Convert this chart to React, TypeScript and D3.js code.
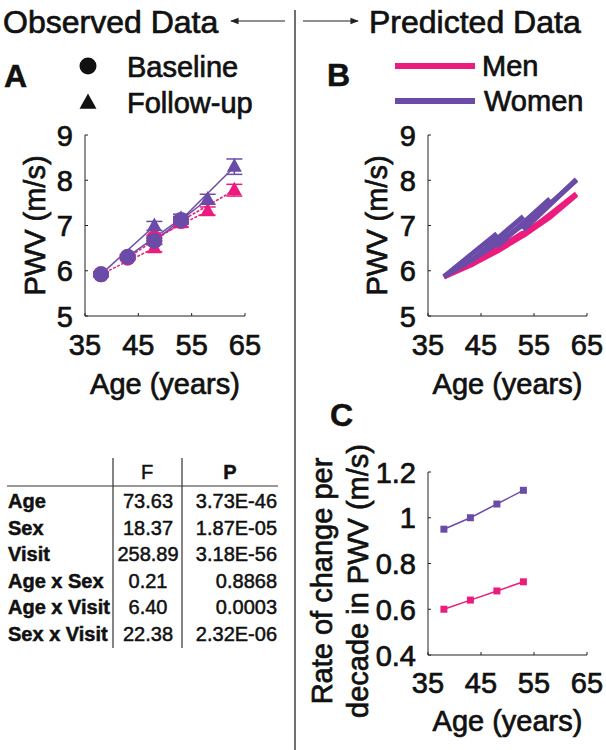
import React from 'react';
import * as d3 from 'd3';

const PINK = '#EC1C7E';
const PURPLE = '#6A4CA8';
const FONT = '"Liberation Sans", Arial, Helvetica, sans-serif';
const FS = 29;

// ---------- Panel A: observed data ----------
const baselineAges = [38, 43, 48, 53];
const followupAges = [48, 53, 58, 63];
const menBaseline = [5.92, 6.29, 6.72, 7.1];
const menBaselineErr = [0.05, 0.05, 0.06, 0.07];
const menFollowup = [6.5, 7.05, 7.32, 7.78];
const menFollowupErr = [0.08, 0.08, 0.09, 0.13];
const womenBaseline = [5.92, 6.31, 6.66, 7.12];
const womenBaselineErr = [0.05, 0.05, 0.07, 0.08];
const womenFollowup = [6.99, 7.15, 7.58, 8.3];
const womenFollowupErr = [0.1, 0.1, 0.11, 0.17];

// ---------- Panel B: predicted data ----------
const trendAges = [38, 43, 48, 53, 58, 63];
const menTrend = [5.86, 6.12, 6.43, 6.78, 7.18, 7.68];
const womenTrend = [5.87, 6.22, 6.6, 7.02, 7.48, 8.0];
const cohortStartAges = [38, 43, 48, 53];
const cohortEndAges = [48, 53, 58, 63];
const menCohortStart = [5.86, 6.12, 6.43, 6.78];
const menCohortEnd = [6.5, 6.84, 7.22, 7.7];
const womenCohortStart = [5.87, 6.2, 6.53, 6.9];
const womenCohortEnd = [6.82, 7.2, 7.59, 8.02];

// ---------- Panel C: rate of change ----------
const rateAges = [38, 43, 48, 53];
const menRate = [0.6, 0.64, 0.68, 0.72];
const womenRate = [0.95, 1.0, 1.06, 1.12];

// ---------- Ticks ----------
const ageTicks = [35, 45, 55, 65];
const pwvTicks = [5, 6, 7, 8, 9];
const rateTicks = [0.4, 0.6, 0.8, 1, 1.2];
const rateTickLabels = ['0.4', '0.6', '0.8', '1', '1.2'];

// ---------- Table ----------
const tableHeader = ['F', 'P'];
const tableRows = ['Age', 'Sex', 'Visit', 'Age x Sex', 'Age x Visit', 'Sex x Visit'];
const tableF = ['73.63', '18.37', '258.89', '0.21', '6.40', '22.38'];
const tableP = ['3.73E-46', '1.87E-05', '3.18E-56', '0.8868', '0.0003', '2.32E-06'];

type Lin = d3.ScaleLinear<number, number>;

function Axes({ x, y, xTicks, yTicks, yLabels, xLabelY }: {
  x: Lin; y: Lin; xTicks: number[]; yTicks: number[]; yLabels: string[]; xLabelY: number;
}) {
  const [x0, x1] = x.range();
  const [y0, y1] = y.range();
  return (
    <g>
      <line x1={x0} x2={x0} y1={y0} y2={y1} stroke="#222" strokeWidth={1} />
      <line x1={x0} x2={x1} y1={y0} y2={y0} stroke="#222" strokeWidth={1} />
      {yTicks.map((t, i) => (
        <g key={'y' + i}>
          <line x1={x0} x2={x0 + 3} y1={y(t)} y2={y(t)} stroke="#222" />
          <text className="big" x={x0 - 12} y={y(t) + 10.5} textAnchor="end" fontSize={FS} fontFamily={FONT} fill="#111">{yLabels[i]}</text>
        </g>
      ))}
      {xTicks.map((t, i) => (
        <g key={'x' + i}>
          <line x1={x(t)} x2={x(t)} y1={y0} y2={y0 - 3} stroke="#222" />
          <text className="big" x={x(t)} y={xLabelY} textAnchor="middle" fontSize={FS} fontFamily={FONT} fill="#111">{t}</text>
        </g>
      ))}
    </g>
  );
}

function tri(cx: number, cy: number, s: number) {
  const h = s * 0.9;
  return `M${cx},${cy - h * 0.62}L${cx + s / 2},${cy + h * 0.38}L${cx - s / 2},${cy + h * 0.38}Z`;
}

export default function App() {
  const xA = d3.scaleLinear().domain([35, 65]).range([85, 245]);
  const yA = d3.scaleLinear().domain([5, 9]).range([316, 135]);
  const xB = d3.scaleLinear().domain([35, 65]).range([428, 587]);
  const yB = d3.scaleLinear().domain([5, 9]).range([316, 135]);
  const xC = d3.scaleLinear().domain([35, 65]).range([428, 587]);
  const yC = d3.scaleLinear().domain([0.4, 1.2]).range([655, 472]);

  const lineB = d3.line<number>();

  const errBar = (x: number, y: number, e: number, color: string, key: string) => (
    <g key={key} stroke={color} strokeWidth={1.5}>
      <line x1={xA(x)} x2={xA(x)} y1={yA(y - e)} y2={yA(y + e)} />
      <line x1={xA(x) - 8} x2={xA(x) + 8} y1={yA(y - e)} y2={yA(y - e)} />
      <line x1={xA(x) - 8} x2={xA(x) + 8} y1={yA(y + e)} y2={yA(y + e)} />
    </g>
  );

  const rowY = (i: number) => 508 + i * 26.6;

  return (
    <svg width={606} height={750} style={{ position: 'absolute', left: 0, top: 0, background: '#fff' }}>
      <style>{`text { stroke: #111; stroke-width: 0.5px; } text.big { stroke-width: 0.7px; }`}</style>
      <defs>
        <marker id="ah" viewBox="0 0 10 10" refX="9" refY="5" markerWidth="7" markerHeight="7" orient="auto-start-reverse">
          <path d="M0,1L10,5L0,9Z" fill="#222" />
        </marker>
      </defs>
      <rect x={0} y={0} width={606} height={750} fill="#fff" />

      {/* Header */}
      <text className="big" x={3} y={33} fontSize={32} fontFamily={FONT} fill="#111">Observed Data</text>
      <text className="big" x={369} y={33} fontSize={32} fontFamily={FONT} fill="#111">Predicted Data</text>
      <line x1={285} x2={231} y1={21} y2={21} stroke="#222" strokeWidth={1.2} markerEnd="url(#ah)" />
      <line x1={303} x2={358} y1={21} y2={21} stroke="#222" strokeWidth={1.2} markerEnd="url(#ah)" />
      <line x1={295} x2={295} y1={10} y2={750} stroke="#222" strokeWidth={1.3} />

      {/* ---------- Panel A ---------- */}
      <text x={4} y={87} fontSize={32} fontWeight="bold" fontFamily={FONT} fill="#111">A</text>
      <circle cx={88} cy={66} r={8.5} fill="#111" />
      <path d={tri(88, 103, 17)} fill="#111" />
      <text className="big" x={127} y={77} fontSize={FS} fontFamily={FONT} fill="#111">Baseline</text>
      <text className="big" x={127} y={113} fontSize={FS} fontFamily={FONT} fill="#111">Follow-up</text>

      <Axes x={xA} y={yA} xTicks={ageTicks} yTicks={pwvTicks} yLabels={pwvTicks.map(String)} xLabelY={355} />
      <text className="big" transform={`translate(45,${(135 + 316) / 2}) rotate(-90)`} textAnchor="middle" fontSize={FS} fontFamily={FONT} fill="#111">PWV (m/s)</text>
      <text className="big" x={(85 + 245) / 2} y={394} textAnchor="middle" fontSize={FS} fontFamily={FONT} fill="#111">Age (years)</text>

      {/* connecting lines */}
      {baselineAges.map((a, i) => (
        <line key={'ml' + i} x1={xA(a)} y1={yA(menBaseline[i])} x2={xA(followupAges[i])} y2={yA(menFollowup[i])}
          stroke={PINK} strokeWidth={1.5} strokeDasharray="3,1.5" />
      ))}
      {baselineAges.map((a, i) => (
        <line key={'wl' + i} x1={xA(a)} y1={yA(womenBaseline[i])} x2={xA(followupAges[i])} y2={yA(womenFollowup[i])}
          stroke={PURPLE} strokeWidth={1.5} />
      ))}
      {/* men markers */}
      {followupAges.map((a, i) => errBar(a, menFollowup[i], menFollowupErr[i], PINK, 'mfe' + i))}
      {baselineAges.map((a, i) => errBar(a, menBaseline[i], menBaselineErr[i], PINK, 'mbe' + i))}
      {followupAges.map((a, i) => <path key={'mft' + i} d={tri(xA(a), yA(menFollowup[i]), 15)} fill={PINK} />)}
      {baselineAges.map((a, i) => <circle key={'mbc' + i} cx={xA(a)} cy={yA(menBaseline[i])} r={8} fill={PINK} />)}
      {/* women markers */}
      {followupAges.map((a, i) => errBar(a, womenFollowup[i], womenFollowupErr[i], PURPLE, 'wfe' + i))}
      {baselineAges.map((a, i) => errBar(a, womenBaseline[i], womenBaselineErr[i], PURPLE, 'wbe' + i))}
      {followupAges.map((a, i) => <path key={'wft' + i} d={tri(xA(a), yA(womenFollowup[i]), 15)} fill={PURPLE} />)}
      {baselineAges.map((a, i) => <circle key={'wbc' + i} cx={xA(a)} cy={yA(womenBaseline[i])} r={8} fill={PURPLE} />)}

      {/* ---------- Panel B ---------- */}
      <text x={327} y={86} fontSize={32} fontWeight="bold" fontFamily={FONT} fill="#111">B</text>
      <line x1={395} x2={475} y1={66} y2={66} stroke={PINK} strokeWidth={6} />
      <line x1={395} x2={475} y1={101} y2={101} stroke={PURPLE} strokeWidth={6} />
      <text className="big" x={482} y={76} fontSize={FS} fontFamily={FONT} fill="#111">Men</text>
      <text className="big" x={484} y={111} fontSize={FS} fontFamily={FONT} fill="#111">Women</text>

      <Axes x={xB} y={yB} xTicks={ageTicks} yTicks={pwvTicks} yLabels={pwvTicks.map(String)} xLabelY={355} />
      <text className="big" transform={`translate(387,${(135 + 316) / 2}) rotate(-90)`} textAnchor="middle" fontSize={FS} fontFamily={FONT} fill="#111">PWV (m/s)</text>
      <text className="big" x={(428 + 587) / 2} y={394} textAnchor="middle" fontSize={FS} fontFamily={FONT} fill="#111">Age (years)</text>

      <path d={lineB(trendAges.map((a, i) => [xB(a), yB(menTrend[i])]) as any) || ''} fill="none" stroke={PINK} strokeWidth={5} />
      {cohortStartAges.map((a, i) => (
        <line key={'mc' + i} x1={xB(a)} y1={yB(menCohortStart[i])} x2={xB(cohortEndAges[i])} y2={yB(menCohortEnd[i])}
          stroke={PINK} strokeWidth={5} />
      ))}
      <path d={lineB(trendAges.map((a, i) => [xB(a), yB(womenTrend[i])]) as any) || ''} fill="none" stroke={PURPLE} strokeWidth={5} />
      {cohortStartAges.map((a, i) => (
        <line key={'wc' + i} x1={xB(a)} y1={yB(womenCohortStart[i])} x2={xB(cohortEndAges[i])} y2={yB(womenCohortEnd[i])}
          stroke={PURPLE} strokeWidth={5} />
      ))}

      {/* ---------- Panel C ---------- */}
      <text x={330} y={426} fontSize={32} fontWeight="bold" fontFamily={FONT} fill="#111">C</text>
      <Axes x={xC} y={yC} xTicks={ageTicks} yTicks={rateTicks} yLabels={rateTickLabels} xLabelY={693} />
      <text className="big" transform={`translate(332,581) rotate(-90)`} textAnchor="middle" fontSize={FS} fontFamily={FONT} fill="#111">Rate of change per</text>
      <text className="big" transform={`translate(368,581) rotate(-90)`} textAnchor="middle" fontSize={FS} fontFamily={FONT} fill="#111">decade in PWV (m/s)</text>
      <text className="big" x={(428 + 587) / 2} y={731} textAnchor="middle" fontSize={FS} fontFamily={FONT} fill="#111">Age (years)</text>

      <path d={lineB(rateAges.map((a, i) => [xC(a), yC(menRate[i])]) as any) || ''} fill="none" stroke={PINK} strokeWidth={1.5} />
      {rateAges.map((a, i) => <rect key={'mr' + i} x={xC(a) - 3.5} y={yC(menRate[i]) - 3.5} width={7} height={7} fill={PINK} />)}
      <path d={lineB(rateAges.map((a, i) => [xC(a), yC(womenRate[i])]) as any) || ''} fill="none" stroke={PURPLE} strokeWidth={1.5} />
      {rateAges.map((a, i) => <rect key={'wr' + i} x={xC(a) - 3.5} y={yC(womenRate[i]) - 3.5} width={7} height={7} fill={PURPLE} />)}

      {/* ---------- Table ---------- */}
      <line x1={113} x2={113} y1={458} y2={648} stroke="#333" strokeWidth={1.2} />
      <line x1={182} x2={182} y1={458} y2={648} stroke="#333" strokeWidth={1.2} />
      <line x1={7} x2={278} y1={486} y2={486} stroke="#333" strokeWidth={1.2} />
      <text x={147} y={479} textAnchor="middle" fontSize={20} fontFamily={FONT} fill="#111">{tableHeader[0]}</text>
      <text x={230} y={479} textAnchor="middle" fontSize={20} fontWeight="bold" fontFamily={FONT} fill="#111">{tableHeader[1]}</text>
      {tableRows.map((r, i) => (
        <g key={'row' + i} fontFamily={FONT} fontSize={20} fill="#111">
          <text x={8} y={rowY(i)} fontWeight="bold">{r}</text>
          <text x={148} y={rowY(i)} textAnchor="middle">{tableF[i]}</text>
          <text x={277} y={rowY(i)} textAnchor="end">{tableP[i]}</text>
        </g>
      ))}
    </svg>
  );
}
